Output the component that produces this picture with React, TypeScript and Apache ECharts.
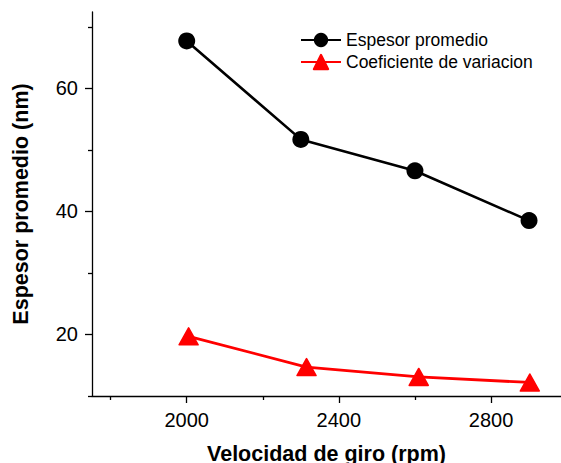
import React, { useEffect, useRef } from "react";
import * as echarts from "echarts";

const velocidad = [2000, 2300, 2600, 2900];
const espesor = [67.7, 51.7, 46.6, 38.5];
const velocidadCoef = [2005, 2315, 2610, 2902];
const coeficiente = [19.7, 14.7, 13.1, 12.2];
const xMajorTicks = [2000, 2400, 2800];
const xMinorTicks = [1800, 2200, 2600];
const yMajorTicks = [20, 40, 60];
const yMinorTicks = [10, 30, 50, 70];

const FONT = "'Liberation Sans', Arial, sans-serif";

export default function App() {
  const ref = useRef<HTMLDivElement>(null);
  useEffect(() => {
    if (!ref.current) return;
    const chart = echarts.init(ref.current, null, { renderer: "svg" });
    const xRange = { min: 1751, max: 2984 };
    const yRange = { min: 10, max: 72.4 };
    const axisColor = "#000";
    chart.setOption({
      animation: false,
      backgroundColor: "#fff",
      textStyle: { fontFamily: FONT, color: "#000" },
      grid: { left: 92, top: 12, right: 0, bottom: 67, containLabel: false, outerBoundsMode: "none" },
      legend: {
        left: 300,
        top: 31,
        padding: 0,
        orient: "vertical",
        itemWidth: 40,
        itemHeight: 18,
        itemGap: 4,
        textStyle: { fontFamily: FONT, fontSize: 17.5, color: "#000" },
        data: ["Espesor promedio", "Coeficiente de variacion"],
      },
      xAxis: [
        {
          type: "value",
          ...xRange,
          position: "bottom",
          name: "Velocidad de giro (rpm)",
          nameLocation: "middle",
          nameGap: 47,
          nameTextStyle: { fontFamily: FONT, fontSize: 21.5, fontWeight: "bold", color: "#000" },
          axisLine: { show: true, lineStyle: { color: axisColor, width: 1.3 } },
          axisTick: { show: true, inside: false, length: 7, customValues: xMajorTicks, lineStyle: { color: axisColor, width: 1.3 } },
          axisLabel: { show: true, customValues: xMajorTicks, formatter: (v: number) => String(v), margin: 14, fontFamily: FONT, fontSize: 20, color: "#000" },
          splitLine: { show: false },
        },
        {
          type: "value",
          ...xRange,
          position: "bottom",
          axisLine: { show: false },
          axisTick: { show: true, inside: false, length: 4, customValues: xMinorTicks, lineStyle: { color: axisColor, width: 1.3 } },
          axisLabel: { show: false },
          splitLine: { show: false },
        },
      ],
      yAxis: [
        {
          type: "value",
          ...yRange,
          position: "left",
          name: "Espesor promedio (nm)",
          nameLocation: "middle",
          nameGap: 60,
          nameTextStyle: { fontFamily: FONT, fontSize: 21.5, fontWeight: "bold", color: "#000" },
          axisLine: { show: true, lineStyle: { color: axisColor, width: 1.3 } },
          axisTick: { show: true, inside: false, length: 7, customValues: yMajorTicks, lineStyle: { color: axisColor, width: 1.3 } },
          axisLabel: { show: true, customValues: yMajorTicks, formatter: (v: number) => String(v), margin: 14, fontFamily: FONT, fontSize: 20, color: "#000" },
          splitLine: { show: false },
        },
        {
          type: "value",
          ...yRange,
          position: "left",
          axisLine: { show: false },
          axisTick: { show: true, inside: false, length: 4, customValues: yMinorTicks, lineStyle: { color: axisColor, width: 1.3 } },
          axisLabel: { show: false },
          splitLine: { show: false },
        },
      ],
      series: [
        {
          name: "Espesor promedio",
          type: "line",
          xAxisIndex: 0,
          yAxisIndex: 0,
          data: velocidad.map((v, i) => [v, espesor[i]]),
          symbol: "circle",
          symbolSize: 17,
          lineStyle: { color: "#000", width: 2.6 },
          itemStyle: { color: "#000" },
        },
        {
          name: "Coeficiente de variacion",
          type: "line",
          xAxisIndex: 0,
          yAxisIndex: 0,
          data: velocidadCoef.map((v, i) => [v, coeficiente[i]]),
          symbol: "triangle",
          symbolSize: [19, 17],
          lineStyle: { color: "#ff0000", width: 2.8 },
          itemStyle: { color: "#ff0000", borderColor: "#ff0000", borderWidth: 1.5, borderJoin: "round" },
        },
      ],
    });
    return () => chart.dispose();
  }, []);
  return (
    <div
      ref={ref}
      style={{ position: "fixed", left: 0, top: 0, width: 561, height: 463, background: "#fff" }}
    />
  );
}
